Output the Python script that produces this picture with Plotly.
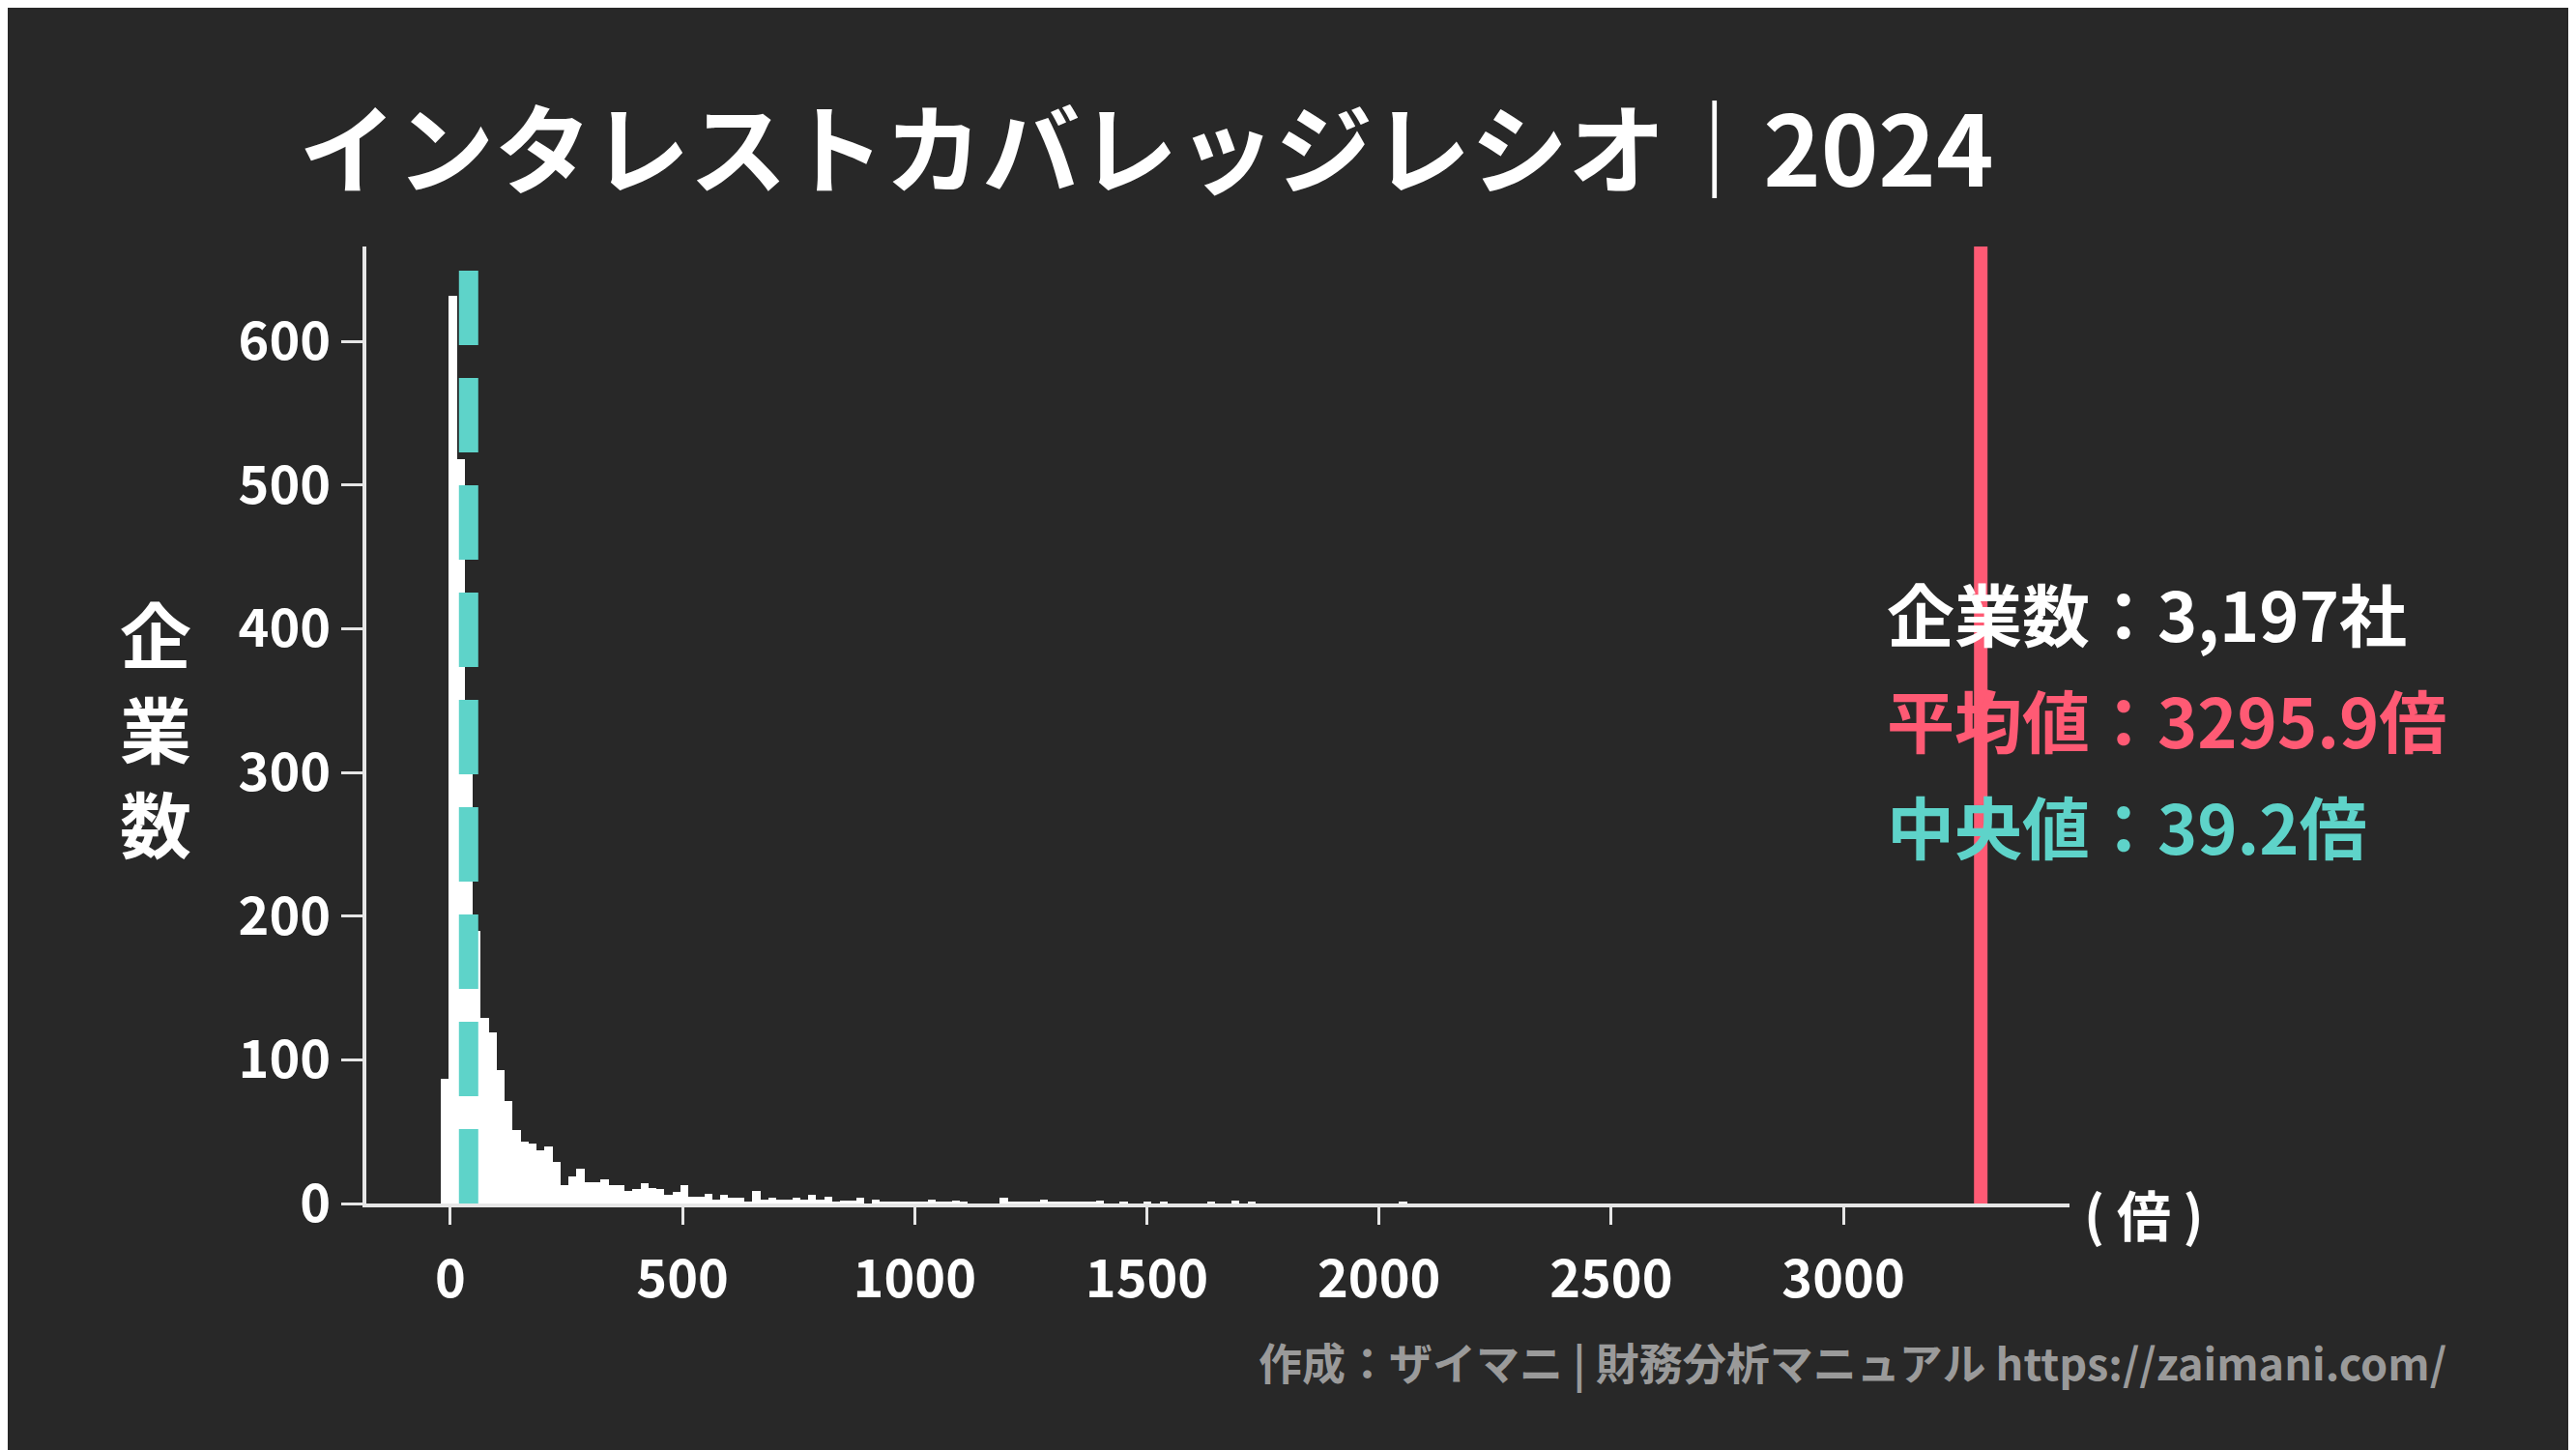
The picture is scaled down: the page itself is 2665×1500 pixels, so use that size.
import plotly.graph_objects as go

bin_start = -20.7
bin_width = 17.2
counts = [87, 632, 518, 330, 190, 129, 119, 93, 71, 51, 43, 42, 37, 40, 29, 13, 19, 24, 15, 15,
          17, 13, 13, 9, 10, 14, 11, 10, 6, 8, 13, 5, 5, 7, 3, 6, 4, 4, 1, 9,
          3, 4, 3, 3, 4, 3, 6, 3, 5, 1, 2, 2, 4, 0, 3, 1, 1, 1, 1, 1,
          1, 3, 1, 1, 2, 1, 0, 0, 0, 0, 4, 1, 1, 1, 1, 3, 1, 1, 1, 1,
          1, 1, 2, 0, 0, 1, 0, 0, 1, 0, 1, 0, 0, 0, 0, 0, 1, 0, 0, 2,
          0, 1, 0, 0, 0, 0, 0, 0, 0, 0, 0, 0, 0, 0, 0, 0, 0, 0, 0, 0, 1]
centers = [bin_start + bin_width * (i + 0.5) for i in range(len(counts))]

n_companies = "3,197"
mean_val = 3295.9
median_val = 39.2
x_ticks = [0, 500, 1000, 1500, 2000, 2500, 3000]
y_ticks = [0, 100, 200, 300, 400, 500, 600]
y_title_chars = ["企", "業", "数"]

BG = "#282828"
RED = "#ff5a74"
TEAL = "#5ed3c9"
FONT = "Noto Sans CJK JP"

W, H = 2665, 1500
L, R, T, B = 371, 532, 247, 263
PW, PH = W - L - R, H - T - B

fig = go.Figure()
fig.add_trace(go.Bar(x=centers, y=counts, width=bin_width, marker=dict(color="white", line=dict(width=0))))

fig.add_shape(type="line", x0=median_val, x1=median_val, y0=0, y1=1, xref="x", yref="paper",
              line=dict(color=TEAL, width=20, dash="77px,34px"))
fig.add_shape(type="line", x0=mean_val, x1=mean_val, y0=0, y1=1, xref="x", yref="paper",
              line=dict(color=RED, width=14))

tickfont = dict(size=54, weight=600, family=FONT, color="white")
fig.update_layout(
    width=W, height=H, paper_bgcolor=BG, plot_bgcolor=BG,
    margin=dict(l=L, r=R, t=T, b=B),
    showlegend=False, bargap=0,
    font=dict(family=FONT, color="white", size=52),
    title=dict(text="<b>インタレストカバレッジレシオ｜2024</b>", x=0.113, xanchor="left", y=0.9, yanchor="middle",
               font=dict(size=101, color="white", family=FONT, weight=900)),
    xaxis=dict(range=[-181, 3487], tickvals=x_ticks, showgrid=False, zeroline=False,
               showline=True, linecolor="#e6e6e6", linewidth=4, ticks="outside", ticklen=18,
               tickwidth=3, tickcolor="#e6e6e6", tickfont=tickfont, ticklabelstandoff=10),
    yaxis=dict(range=[0, 666], tickvals=y_ticks, showgrid=False, zeroline=False,
               showline=True, linecolor="#e6e6e6", linewidth=4, ticks="outside", ticklen=22,
               tickwidth=3, tickcolor="#e6e6e6", tickfont=tickfont),
)

ann = [
    dict(text="<b>( 倍 )</b>", x=2210, y=1246, size=56, color="white", xanchor="center"),
    dict(text="<b>企業数：" + n_companies + "社</b>", x=1942, y=625, size=70, color="white", xanchor="left"),
    dict(text="<b>平均値：" + str(mean_val) + "倍</b>", x=1942, y=735, size=70, color=RED, xanchor="left"),
    dict(text="<b>中央値：" + str(median_val) + "倍</b>", x=1942, y=845, size=70, color=TEAL, xanchor="left"),
    dict(text="<b>作成：ザイマニ | 財務分析マニュアル https://zaimani.com/</b>", x=2525, y=1400, size=45,
         color="#9a9a9a", xanchor="right"),
]
for i, ch in enumerate(y_title_chars):
    ann.append(dict(text="<b>" + ch + "</b>", x=153, y=645 + i * 98, size=74, color="white", xanchor="center"))
for a in ann:
    fig.add_annotation(xref="paper", yref="paper", x=(a["x"] - L) / PW, y=1 - (a["y"] - T) / PH,
                       xanchor=a["xanchor"], yanchor="middle", text=a["text"], showarrow=False,
                       font=dict(family=FONT, color=a["color"], size=a["size"]))

fig.write_html("out.html")
